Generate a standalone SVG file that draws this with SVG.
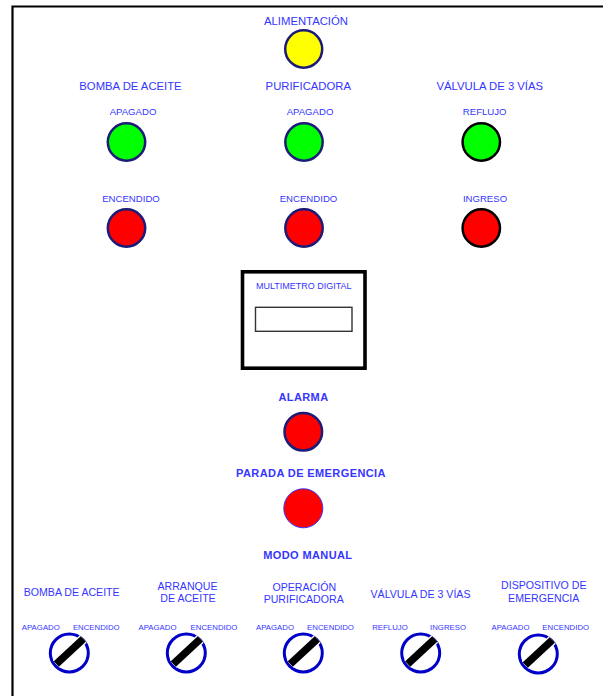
<svg xmlns="http://www.w3.org/2000/svg" width="603" height="696" viewBox="0 0 603 696">
<style>
text{font-family:"Liberation Sans",Arial,sans-serif;fill:#3535ff;text-anchor:middle}
.h{font-size:11.3px}
.s{font-size:9.6px}
.b{font-size:10.6px}
.t{font-size:7.8px}
.bold{font-size:11px;font-weight:bold;letter-spacing:0.4px}
.lamp{stroke:#1c1c78;stroke-width:2.5}
.lampk{stroke:#000;stroke-width:2.5}
.sw{fill:#fff;stroke:#0000c8;stroke-width:3}
.bar{stroke:#000;stroke-width:7.5;stroke-linecap:butt}
</style>
<defs>
<g id="switch">
<circle class="sw" cx="0" cy="0" r="19"/>
<line x1="-13" y1="11" x2="14" y2="-14" stroke="#fff" stroke-width="10"/>
<line class="bar" x1="-13" y1="11" x2="14" y2="-14"/>
</g>
</defs>
<rect width="603" height="696" fill="#fff"/>
<g id="frame" fill="none" stroke="#000" stroke-width="2.2">
<path d="M12.5 696 V6.5 H603"/>
</g>
<g id="connectors"/>
<g id="alimentacion">
<text class="h" x="306" y="24.5">ALIMENTACIÓN</text>
<ellipse cx="303.7" cy="49" rx="18.5" ry="18.7" fill="#ffff00" class="lamp"/>
</g>
<g id="headers">
<text class="h" x="130.5" y="89.5">BOMBA DE ACEITE</text>
<text class="h" x="308.3" y="89.5">PURIFICADORA</text>
<text class="h" x="489.8" y="89.5">VÁLVULA DE 3 VÍAS</text>
</g>
<g id="bomba-apagado">
<text class="s" x="133" y="115">APAGADO</text>
<circle cx="126.5" cy="142" r="18.7" fill="#00ff00" class="lamp"/>
</g>
<g id="bomba-encendido">
<text class="s" x="131" y="202">ENCENDIDO</text>
<circle cx="126.5" cy="228" r="18.7" fill="#ff0000" class="lamp"/>
</g>
<g id="purificadora-apagado">
<text class="s" x="310" y="115">APAGADO</text>
<circle cx="304" cy="142" r="18.7" fill="#00ff00" class="lamp"/>
</g>
<g id="purificadora-encendido">
<text class="s" x="308.5" y="202">ENCENDIDO</text>
<circle cx="304" cy="228" r="18.7" fill="#ff0000" class="lamp"/>
</g>
<g id="valvula-reflujo">
<text class="s" x="484.7" y="115">REFLUJO</text>
<circle cx="481.3" cy="142" r="18.7" fill="#00ff00" class="lampk"/>
</g>
<g id="valvula-ingreso">
<text class="s" x="485" y="202">INGRESO</text>
<circle cx="481.3" cy="228" r="18.7" fill="#ff0000" class="lampk"/>
</g>
<g id="multimetro">
<rect x="242.5" y="271.8" width="122.5" height="96.4" fill="#fff" stroke="#000" stroke-width="3.6"/>
<text x="303.8" y="289.3" style="font-size:9px">MULTIMETRO DIGITAL</text>
<rect x="255.5" y="307.3" width="96.5" height="24" fill="#fff" stroke="#333" stroke-width="1.4"/>
</g>
<g id="alarma">
<text class="bold" x="303.5" y="400.7">ALARMA</text>
<circle cx="303.3" cy="431.7" r="18.8" fill="#ff0000" class="lamp"/>
</g>
<g id="parada-emergencia">
<text class="bold" x="311" y="476.7">PARADA DE EMERGENCIA</text>
<circle cx="303.3" cy="508.3" r="19.5" fill="#ff0000" stroke="#3535ff" stroke-width="1"/>
</g>
<g id="modo-manual">
<text class="bold" x="307.8" y="559">MODO MANUAL</text>
</g>
<g id="sw-bomba">
<text class="b" x="71.7" y="596">BOMBA DE ACEITE</text>
<text class="t" x="40.8" y="630">APAGADO</text>
<text class="t" x="96.3" y="630">ENCENDIDO</text>
<use href="#switch" x="69.3" y="653"/>
</g>
<g id="sw-arranque">
<text class="b" x="187.5" y="590">ARRANQUE</text>
<text class="b" x="188" y="602">DE ACEITE</text>
<text class="t" x="157.5" y="630">APAGADO</text>
<text class="t" x="214" y="630">ENCENDIDO</text>
<use href="#switch" x="186.3" y="653"/>
</g>
<g id="sw-purificadora">
<text class="b" x="304.3" y="591">OPERACIÓN</text>
<text class="b" x="303.7" y="603">PURIFICADORA</text>
<text class="t" x="275" y="630">APAGADO</text>
<text class="t" x="330.5" y="630">ENCENDIDO</text>
<use href="#switch" x="303.3" y="653"/>
</g>
<g id="sw-valvula">
<text class="b" x="420.5" y="598.3">VÁLVULA DE 3 VÍAS</text>
<text class="t" x="390" y="630">REFLUJO</text>
<text class="t" x="448" y="630">INGRESO</text>
<use href="#switch" x="420.7" y="653"/>
</g>
<g id="sw-emergencia">
<text class="b" x="543.8" y="589.3">DISPOSITIVO DE</text>
<text class="b" x="543.7" y="602">EMERGENCIA</text>
<text class="t" x="510.5" y="630">APAGADO</text>
<text class="t" x="565.7" y="630">ENCENDIDO</text>
<use href="#switch" x="538.3" y="654"/>
</g>
</svg>
